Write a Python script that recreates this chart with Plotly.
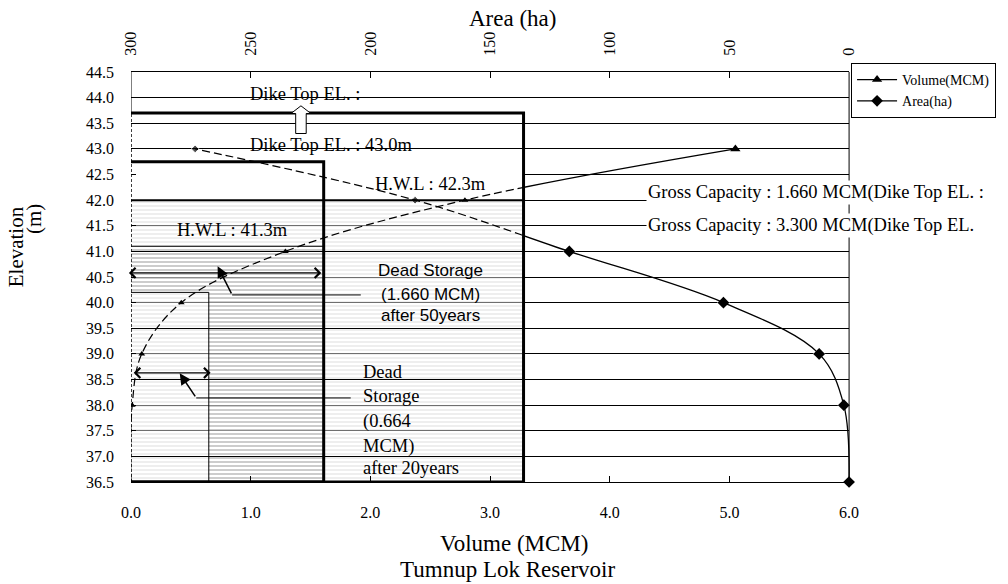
import plotly.graph_objects as go

# ---------------- data ----------------
ELEVATION_M = [36.5, 38.0, 39.0, 40.0, 41.0, 42.0, 43.0]
VOLUME_MCM = [0.0, 0.01, 0.09, 0.42, 1.29, 2.79, 5.05]
AREA_HA = [0.0, 2.2, 12.5, 52.5, 116.9, 181.3, 273.2]
SERIES_NAMES = ["Volume(MCM)", "Area(ha)"]

VOLUME_TICKS = [0, 1, 2, 3, 4, 5, 6]
VOLUME_TICK_TEXT = ["0.0", "1.0", "2.0", "3.0", "4.0", "5.0", "6.0"]
AREA_TICKS = [300, 250, 200, 150, 100, 50, 0]
AREA_TICK_TEXT = ["300", "250", "200", "150", "100", "50", "0"]
ELEV_TICKS = [36.5, 37.0, 37.5, 38.0, 38.5, 39.0, 39.5, 40.0, 40.5,
              41.0, 41.5, 42.0, 42.5, 43.0, 43.5, 44.0, 44.5]
ELEV_TICK_TEXT = ["36.5", "37.0", "37.5", "38.0", "38.5", "39.0", "39.5", "40.0", "40.5",
                  "41.0", "41.5", "42.0", "42.5", "43.0", "43.5", "44.0", "44.5"]

# storage zones (volume in MCM, elevation in m) as drawn on the chart
GROSS_VOL = 3.28
DEAD50_VOL = 1.61
DEAD20_VOL = 0.65
GROSS_TOP = 42.0
DEAD50_TOP = 41.1
DEAD20_TOP = 40.2
DIKE_BOX_TOP = 43.7
HWL_BOX_TOP = 42.75

VOL_RANGE = [0, 6]
AREA_RANGE = [300, 0]
ELEV_RANGE = [36.5, 44.5]

# ---------------- layout geometry ----------------
W, H = 1008, 584
PLOT_L, PLOT_R, PLOT_T, PLOT_B = 131, 857, 72, 482
PAD = 8
MR = W - PLOT_R - PAD
MB = H - PLOT_B - PAD
PW = W - PLOT_L - MR
PH = H - PLOT_T - MB
X_END = (PLOT_R - PLOT_L) / PW
Y_START = PAD / PH


def px(x):
    return (x - PLOT_L) / PW


def py(y):
    return (H - MB - y) / PH


vol_span = VOL_RANGE[1] - VOL_RANGE[0]
split = X_END * (GROSS_VOL - VOL_RANGE[0]) / vol_span
area_split = AREA_RANGE[0] + (AREA_RANGE[1] - AREA_RANGE[0]) * (GROSS_VOL - VOL_RANGE[0]) / vol_span
e_vol = vol_span / (PLOT_R - PLOT_L) * PAD
e_area = (AREA_RANGE[0] - AREA_RANGE[1]) / (PLOT_R - PLOT_L) * PAD
e_elev = (ELEV_RANGE[1] - ELEV_RANGE[0]) / (PLOT_B - PLOT_T) * PAD

SERIF = "Liberation Serif"
SANS = "Liberation Sans"
BLACK = "black"

fig = go.Figure()

# ---------------- hatched storage zones ----------------
lx = [0, GROSS_VOL, GROSS_VOL, 0, 0]
ly = [ELEV_RANGE[0], ELEV_RANGE[0], GROSS_TOP, GROSS_TOP, ELEV_RANGE[0]]
fig.add_trace(go.Scatter(
    x=lx, y=ly, mode="lines", line=dict(width=0, color="rgba(0,0,0,0)"),
    fill="toself", fillcolor="rgba(0,0,0,0)",
    fillpattern=dict(shape="-", fgcolor="#dedede", bgcolor="rgba(0,0,0,0)", size=4, solidity=0.5),
    hoverinfo="skip", showlegend=False))
dxs = [0, DEAD50_VOL, DEAD50_VOL, DEAD20_VOL, DEAD20_VOL, 0, 0]
dys = [DEAD50_TOP, DEAD50_TOP, ELEV_RANGE[0], ELEV_RANGE[0], DEAD20_TOP, DEAD20_TOP, DEAD50_TOP]
fig.add_trace(go.Scatter(
    x=dxs, y=dys, mode="lines", line=dict(width=0, color="rgba(0,0,0,0)"),
    fill="toself", fillcolor="rgba(0,0,0,0)",
    fillpattern=dict(shape="-", fgcolor="#a9a9a9", bgcolor="rgba(0,0,0,0)", size=4, solidity=0.5),
    hoverinfo="skip", showlegend=False))

# area markers on the top (area) axis; smaller inside the gross-capacity box
area_marker_sizes = [9 if a < area_split else 6 for a in AREA_HA]
fig.add_trace(go.Scatter(
    x=AREA_HA, y=ELEVATION_M, xaxis="x2", yaxis="y", mode="markers",
    marker=dict(symbol="diamond", size=area_marker_sizes, color=BLACK),
    cliponaxis=False, hoverinfo="skip", showlegend=False))

# ---------------- curves ----------------
# solid part (outside the gross-capacity box)
fig.add_trace(go.Scatter(
    x=VOLUME_MCM, y=ELEVATION_M, xaxis="x4", yaxis="y2", mode="lines+markers",
    name=SERIES_NAMES[0], line=dict(color=BLACK, width=1.3, shape="spline"),
    marker=dict(symbol="triangle-up", size=9, color=BLACK), hoverinfo="skip"))
fig.add_trace(go.Scatter(
    x=AREA_HA, y=ELEVATION_M, xaxis="x6", yaxis="y2", mode="lines+markers",
    name=SERIES_NAMES[1], line=dict(color=BLACK, width=1.3, shape="spline"),
    marker=dict(symbol="diamond", size=9, color=BLACK), hoverinfo="skip"))
# dashed part (inside the gross-capacity box)
fig.add_trace(go.Scatter(
    x=VOLUME_MCM, y=ELEVATION_M, xaxis="x3", yaxis="y3", mode="lines+markers",
    line=dict(color=BLACK, width=1.2, shape="spline", dash="8px,4px"),
    marker=dict(symbol="triangle-up", size=6, color=BLACK), hoverinfo="skip", showlegend=False))
fig.add_trace(go.Scatter(
    x=AREA_HA, y=ELEVATION_M, xaxis="x5", yaxis="y3", mode="lines",
    line=dict(color=BLACK, width=1.2, shape="spline", dash="8px,4px"),
    hoverinfo="skip", showlegend=False))

# ---------------- shapes ----------------
BOX_LEFT = -0.055
shapes = []
shapes.append(dict(type="rect", xref="x", yref="y", x0=0, x1=GROSS_VOL, y0=GROSS_TOP, y1=HWL_BOX_TOP,
                   fillcolor="white", line=dict(width=0), layer="between"))
shapes.append(dict(type="rect", xref="x", yref="y", x0=BOX_LEFT, x1=GROSS_VOL, y0=ELEV_RANGE[0], y1=DIKE_BOX_TOP,
                   line=dict(color=BLACK, width=3), layer="above"))
shapes.append(dict(type="rect", xref="x", yref="y", x0=BOX_LEFT, x1=DEAD50_VOL, y0=ELEV_RANGE[0], y1=HWL_BOX_TOP,
                   line=dict(color=BLACK, width=3), layer="above"))
shapes.append(dict(type="line", xref="x", yref="y", x0=BOX_LEFT, x1=GROSS_VOL, y0=GROSS_TOP, y1=GROSS_TOP,
                   line=dict(color=BLACK, width=2), layer="above"))
shapes.append(dict(type="line", xref="x", yref="y", x0=BOX_LEFT, x1=DEAD50_VOL, y0=DEAD50_TOP, y1=DEAD50_TOP,
                   line=dict(color=BLACK, width=1), layer="above"))
shapes.append(dict(type="rect", xref="x", yref="y", x0=BOX_LEFT, x1=DEAD20_VOL, y0=ELEV_RANGE[0], y1=DEAD20_TOP,
                   line=dict(color=BLACK, width=1), layer="above"))
# left axis line: solid above the box, dotted inside it
shapes.append(dict(type="line", xref="x", yref="y", x0=0, x1=0, y0=DIKE_BOX_TOP, y1=ELEV_RANGE[1],
                   line=dict(color=BLACK, width=1), layer="above"))
shapes.append(dict(type="line", xref="x", yref="y", x0=0, x1=0, y0=ELEV_RANGE[0], y1=DIKE_BOX_TOP,
                   line=dict(color=BLACK, width=1.5, dash="3px,2px"), layer="above"))
# right border
shapes.append(dict(type="line", xref="x domain", yref="y domain", x0=1, x1=1, y0=0, y1=1,
                   line=dict(color=BLACK, width=1), layer="above"))
# hollow up arrow (dike top)
UP_X, UP_BOTTOM, UP_NECK, UP_TIP = 1.42, 43.30, 43.69, 43.84
UP_HEAD, UP_SHAFT = 0.083, 0.044
up_path = (f"M {UP_X-UP_SHAFT},{UP_BOTTOM} L {UP_X+UP_SHAFT},{UP_BOTTOM} L {UP_X+UP_SHAFT},{UP_NECK} "
           f"L {UP_X+UP_HEAD},{UP_NECK} L {UP_X},{UP_TIP} L {UP_X-UP_HEAD},{UP_NECK} "
           f"L {UP_X-UP_SHAFT},{UP_NECK} Z")
shapes.append(dict(type="path", xref="x", yref="y", path=up_path, fillcolor="white",
                   line=dict(color=BLACK, width=1), layer="above"))
# leader lines
LEAD1 = dict(x_from=1.92, x_to=0.845, y=40.15, head_x=0.724, head_y=40.71)
LEAD2 = dict(x_from=1.836, x_to=0.545, y=38.14, head_x=0.407, head_y=38.62)
for ld in (LEAD1, LEAD2):
    shapes.append(dict(type="line", xref="x", yref="y", x0=ld["x_from"], x1=ld["x_to"], y0=ld["y"], y1=ld["y"],
                       line=dict(color=BLACK, width=1), layer="above"))

# ---------------- annotations ----------------
ann = []
TXT = 18.5


def txt(text, x, y, size=TXT, family=SERIF, xanchor="center", **kw):
    d = dict(text=text, x=x, y=y, xref="x", yref="y", showarrow=False, xanchor=xanchor, yanchor="middle",
             font=dict(family=family, size=size, color=BLACK))
    d.update(kw)
    return d


ann.append(txt("Dike Top EL. :", 0.98, 44.07, xanchor="left"))
ann.append(txt("Dike Top EL. : 43.0m", 0.98, 43.08, xanchor="left"))
ann.append(txt("H.W.L : 42.3m", 2.50, 42.32))
ann.append(txt("H.W.L : 41.3m", 0.845, 41.41))

DS50_LINES = ["Dead Storage", "(1.660 MCM)", "after 50years"]
DS50_Y = [40.63, 40.15, 39.74]
for t, yy in zip(DS50_LINES, DS50_Y):
    ann.append(txt(t, 2.505, yy, size=17, family=SANS))

DS20_LINES = ["Dead", "Storage", "(0.664", "MCM)", "after 20years"]
DS20_Y = [38.65, 38.18, 37.69, 37.20, 36.77]
for t, yy in zip(DS20_LINES, DS20_Y):
    ann.append(txt(t, 1.925, yy, xanchor="left"))

ann.append(txt("Gross Capacity : 1.660 MCM(Dike Top EL. :", 4.30, 42.14, xanchor="left", bgcolor="white"))
ann.append(txt("Gross Capacity : 3.300 MCM(Dike Top EL.", 4.305, 41.51, xanchor="left", bgcolor="white"))

# double-headed span arrows
for (xa, xb, yy) in [(-0.03, 1.59, 40.58), (0.01, 0.665, 38.63)]:
    ann.append(dict(x=xb, y=yy, ax=xa, ay=yy, xref="x", yref="y", axref="x", ayref="y", text="",
                    showarrow=True, arrowhead=4, startarrowhead=4, arrowside="end+start",
                    arrowsize=1.4, startarrowsize=1.4, arrowwidth=1.4, arrowcolor=BLACK,
                    standoff=0, startstandoff=0))
# leader arrows
for ld in (LEAD1, LEAD2):
    ann.append(dict(x=ld["head_x"], y=ld["head_y"], ax=ld["x_to"], ay=ld["y"], xref="x", yref="y",
                    axref="x", ayref="y", text="", showarrow=True, arrowhead=2, arrowsize=1.5,
                    arrowwidth=1.5, arrowcolor=BLACK, standoff=0))


# titles
def ptxt(text, x, y, size=23, angle=0):
    return dict(text=text, x=px(x), y=py(y), xref="paper", yref="paper", showarrow=False,
                xanchor="center", yanchor="middle", textangle=angle,
                font=dict(family=SERIF, size=size, color=BLACK))


ann.append(ptxt("Area (ha)", 517, 19))
ann.append(ptxt("Volume (MCM)", 518, 543))
ann.append(ptxt("Tumnup Lok Reservoir", 512, 569))
ann.append(ptxt("Elevation", 15, 247, size=21, angle=-90))
ann.append(ptxt("(m)", 33, 219, size=21, angle=-90))

tickfont = dict(family=SERIF, size=16, color=BLACK)
hidden = dict(visible=False, showgrid=False, zeroline=False, fixedrange=True)

fig.update_layout(
    width=W, height=H, autosize=False,
    margin=dict(l=PLOT_L, r=MR, t=PLOT_T, b=MB, pad=0),
    paper_bgcolor="white", plot_bgcolor="rgba(0,0,0,0)",
    font=dict(family=SERIF, color=BLACK),
    xaxis=dict(domain=[0, X_END], range=VOL_RANGE, anchor="y", showline=True, linecolor=BLACK, linewidth=1,
               ticks="inside", ticklen=6, tickcolor=BLACK, tickvals=VOLUME_TICKS, ticktext=VOLUME_TICK_TEXT,
               showgrid=False, zeroline=False, tickfont=tickfont, ticklabelstandoff=16),
    xaxis2=dict(overlaying="x", side="top", anchor="y", range=AREA_RANGE, showline=True, linecolor=BLACK,
                linewidth=1, ticks="inside", ticklen=6, tickcolor=BLACK, tickvals=AREA_TICKS,
                ticktext=AREA_TICK_TEXT, tickangle=-90, showgrid=False, zeroline=False, tickfont=tickfont,
                ticklabelstandoff=12),
    yaxis=dict(domain=[Y_START, 1], range=ELEV_RANGE, anchor="x", showline=False, ticks="inside", ticklen=5,
               tickcolor=BLACK, tickvals=ELEV_TICKS, ticktext=ELEV_TICK_TEXT, showgrid=True, gridcolor=BLACK,
               gridwidth=1, zeroline=False, tickfont=tickfont, ticklabelstandoff=16),
    xaxis3=dict(domain=[0, split], range=[VOL_RANGE[0], GROSS_VOL], anchor="y3", **hidden),
    xaxis4=dict(domain=[split, 1], range=[GROSS_VOL, VOL_RANGE[1] + e_vol], anchor="y2", **hidden),
    xaxis5=dict(domain=[0, split], range=[AREA_RANGE[0], area_split], anchor="y3", **hidden),
    xaxis6=dict(domain=[split, 1], range=[area_split, AREA_RANGE[1] - e_area], anchor="y2", **hidden),
    yaxis2=dict(domain=[0, 1], range=[ELEV_RANGE[0] - e_elev, ELEV_RANGE[1]], anchor="x4", **hidden),
    yaxis3=dict(domain=[Y_START, 1], range=ELEV_RANGE, anchor="x3", **hidden),
    showlegend=True,
    legend=dict(x=px(859), y=py(63), xanchor="left", yanchor="top", bgcolor="white", bordercolor=BLACK,
                borderwidth=1, font=dict(family=SERIF, size=14, color=BLACK), itemwidth=40,
                tracegroupgap=0),
    shapes=shapes,
    annotations=ann,
)

# place the figure at the page origin (remove the default 8px body margin)
fig.write_html("out.html", post_script="document.body.style.margin='0';",
               config={"displayModeBar": False})
